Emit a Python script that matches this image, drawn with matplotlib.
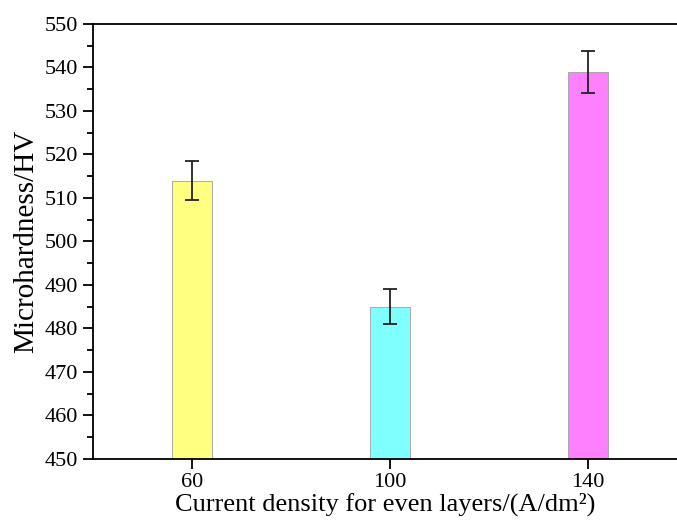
import matplotlib
matplotlib.use('Agg')
import matplotlib.pyplot as plt
from matplotlib.ticker import MultipleLocator

# Dati
densita = [60, 100, 140]
durezza = [514, 485, 539]
errori = [4.4, 4.0, 4.8]
colori = ['#ffff80', '#80ffff', '#ff80ff']

plt.rcParams['font.family'] = ['Liberation Serif', 'DejaVu Serif']

fig = plt.figure(figsize=(6.77, 5.22), dpi=100)
ax = fig.add_axes([0.137, 0.121, 0.863, 0.833])

ax.bar(densita, durezza, width=8, color=colori, edgecolor='#a0a0a0', linewidth=0.6)
ax.errorbar(densita, durezza, yerr=errori, fmt='none', ecolor='#222222', elinewidth=1.3, capsize=5, capthick=1.3)

ax.set_xlim(40, 158)
ax.set_ylim(450, 550)
ax.set_xticks(densita)
ax.yaxis.set_major_locator(MultipleLocator(10))
ax.yaxis.set_minor_locator(MultipleLocator(5))
ax.tick_params(axis='both', which='major', direction='out', length=7, width=1.3, labelsize=16)
ax.tick_params(axis='y', which='minor', direction='out', length=4, width=1.3)

for s in ['left', 'bottom', 'top']:
    ax.spines[s].set_linewidth(1.3)
ax.spines['right'].set_visible(False)

ax.set_xlabel('Current density for even layers/(A/dm²)', fontsize=19, labelpad=0)
ax.set_ylabel('Microhardness/HV', fontsize=21, labelpad=4)

fig.savefig('out.png', dpi=100)
